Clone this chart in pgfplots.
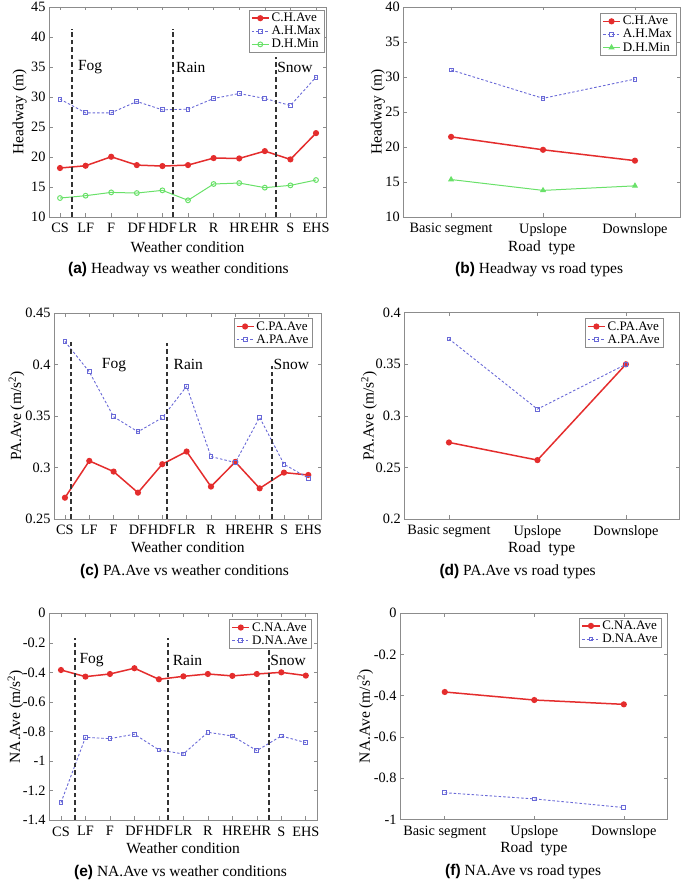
\documentclass[border=0pt]{standalone}
\usepackage{pgfplots}
\pgfplotsset{compat=1.18}
\usepackage{pgfplotstable}
\usepackage{fontspec}
\setmainfont{Liberation Serif}
\newfontfamily\capsans{Liberation Sans}

\definecolor{myred}{RGB}{228,45,45}
\definecolor{myblue}{RGB}{105,105,215}
\definecolor{mygreen}{RGB}{105,225,105}
\definecolor{axgray}{RGB}{140,140,140}

\pgfplotstableread{
x C A D
0 18.16 29.64 13.16
1 18.54 27.36 13.55
2 20.04 27.36 14.10
3 18.65 29.25 13.99
4 18.49 27.86 14.44
5 18.65 27.97 12.78
6 19.82 29.75 15.50
7 19.76 30.58 15.66
8 20.98 29.75 14.89
9 19.60 28.58 15.27
10 23.98 33.30 16.16
}\tabA
\pgfplotstableread{
x C A D
1 21.45 31.00 15.35
2 19.60 26.95 13.80
3 18.05 29.70 14.45
}\tabB
\pgfplotstableread{
x C A
0 0.2707 0.4226
1 0.3065 0.3931
2 0.2961 0.3494
3 0.2756 0.3348
4 0.3033 0.3485
5 0.3156 0.3790
6 0.2815 0.3107
7 0.3055 0.3049
8 0.2798 0.3488
9 0.2951 0.3033
10 0.2928 0.2897
}\tabC
\pgfplotstableread{
x C A
1 0.2742 0.3746
2 0.2571 0.3065
3 0.3500 0.3500
}\tabD
\pgfplotstableread{
x C D
0 -0.384 -1.282
1 -0.429 -0.840
2 -0.411 -0.849
3 -0.372 -0.819
4 -0.447 -0.925
5 -0.427 -0.953
6 -0.411 -0.806
7 -0.424 -0.831
8 -0.411 -0.930
9 -0.400 -0.831
10 -0.422 -0.876
}\tabE
\pgfplotstableread{
x C D
1 -0.382 -0.871
2 -0.421 -0.901
3 -0.442 -0.943
}\tabF

\pgfplotsset{
  mybase/.style={
    scale only axis,
    anchor=south west,
    axis line style={draw=axgray, line width=0.7pt},
    every tick/.style={draw=axgray, line width=0.6pt},
    tick align=inside,
    major tick length=3.5pt,
    ticklabel style={font=\fontsize{14.3}{14.3}\selectfont, text=black},
    xticklabel style={yshift=-3pt},
    xlabel style={font=\fontsize{15.5}{16}\selectfont, anchor=center},
    ylabel style={font=\fontsize{15.5}{16}\selectfont, anchor=center},
    legend style={font=\fontsize{13}{15.5}\selectfont, draw=axgray, anchor=north east,
      inner xsep=2pt, inner ysep=1pt, row sep=-1pt},
    legend cell align=left,
  },
  weather/.style={
    xtick={0,...,10},
    xticklabels={CS,LF,F,DF,HDF,LR,R,HR,EHR,S,EHS},
    xlabel={Weather condition},
  },
  road/.style={
    xtick={1,2,3},
    xticklabels={Basic segment,Upslope,Downslope},
    xlabel={Road\ \ type},
  },
  cred/.style={color=myred, line width=1.5pt, mark=*, mark size=2.3pt, mark options={fill=myred, solid}},
  ablue/.style={color=myblue, line width=0.9pt, dash pattern=on 2.5pt off 2pt, mark=square, mark size=1.9pt, mark options={solid, line width=0.9pt}},
  dgreen/.style={color=mygreen, line width=1pt, mark=o, mark size=2.4pt, mark options={solid}},
  dgreentri/.style={color=mygreen, line width=1pt, mark=triangle*, mark size=2.6pt, mark options={solid, fill=mygreen}},
  sep/.style={black!80, line width=2pt, dash pattern=on 4.5pt off 3pt, forget plot, mark=none},
}
\newcommand{\reg}{\fontsize{15.5}{16}\selectfont}
\newcommand{\capt}[2]{{\capsans\bfseries(#1)} #2}

\begin{document}
\begin{tikzpicture}[x=1pt,y=1pt]
\useasboundingbox (0,0) rectangle (685,887);

% (a)
\begin{axis}[mybase, weather, at={(49pt,670pt)}, width=277pt, height=210pt,
  xmin=-0.43, xmax=10.39, ymin=10, ymax=45,
  ytick={10,15,...,45}, yticklabels={10,15,20,25,30,35,40,45},
  ylabel={Headway (m)},
  ylabel style={at={(axis description cs:-0.106,0.5)}},
  xlabel style={at={(axis description cs:0.5,-0.143)}},
  legend style={at={(0.996,0.986)}}]
\addplot[cred] table[x=x,y=C]{\tabA};
\addplot[ablue] table[x=x,y=A]{\tabA};
\addplot[dgreen] table[x=x,y=D]{\tabA};
\legend{C.H.Ave,A.H.Max,D.H.Min}
\addplot[sep] coordinates {(0.47,10) (0.47,41.3)};
\addplot[sep] coordinates {(4.4,10) (4.4,41.3)};
\addplot[sep] coordinates {(8.44,10) (8.44,36.7)};
\node[anchor=west, font=\reg, inner sep=0pt] at (axis cs:0.7,35) {Fog};
\node[anchor=west, font=\reg, inner sep=0pt] at (axis cs:4.53,35) {Rain};
\node[anchor=west, font=\reg, inner sep=0pt] at (axis cs:8.48,35) {Snow};
\end{axis}

% (b)
\begin{axis}[mybase, road, at={(403.3pt,670pt)}, width=276.7pt, height=210pt,
  xmin=0.48, xmax=3.49, ymin=10, ymax=40,
  ytick={10,15,...,40}, yticklabels={10,15,20,25,30,35,40},
  ylabel={Headway (m)},
  ylabel style={at={(axis description cs:-0.092,0.5)}},
  xlabel style={at={(axis description cs:0.5,-0.146)}},
  legend style={at={(0.986,0.971)}}]
\addplot[cred] table[x=x,y=C]{\tabB};
\addplot[ablue] table[x=x,y=A]{\tabB};
\addplot[dgreentri] table[x=x,y=D]{\tabB};
\legend{C.H.Ave,A.H.Max,D.H.Min}
\end{axis}

% (c)
\begin{axis}[mybase, weather, at={(54pt,368pt)}, width=267.7pt, height=205.7pt,
  xmin=-0.45, xmax=10.55, ymin=0.25, ymax=0.45,
  ytick={0.25,0.3,0.35,0.4,0.45}, yticklabels={0.25,0.3,0.35,0.4,0.45},
  ylabel={PA.Ave (m/s\textsuperscript{2})},
  ylabel style={at={(axis description cs:-0.14,0.5)}},
  xlabel style={at={(axis description cs:0.5,-0.138)}},
  legend style={at={(0.966,0.976)}}]
\addplot[cred] table[x=x,y=C]{\tabC};
\addplot[ablue] table[x=x,y=A]{\tabC};
\legend{C.PA.Ave,A.PA.Ave}
\addplot[sep] coordinates {(0.23,0.25) (0.23,0.4247)};
\addplot[sep] coordinates {(4.2,0.25) (4.2,0.421)};
\addplot[sep] coordinates {(8.5,0.25) (8.5,0.399)};
\node[anchor=west, font=\reg, inner sep=0pt] at (axis cs:1.51,0.4) {Fog};
\node[anchor=west, font=\reg, inner sep=0pt] at (axis cs:4.46,0.4) {Rain};
\node[anchor=west, font=\reg, inner sep=0pt] at (axis cs:8.57,0.4) {Snow};
\end{axis}

% (d)
\begin{axis}[mybase, road, at={(404.3pt,368pt)}, width=274.7pt, height=206.3pt,
  xmin=0.495, xmax=3.6, ymin=0.2, ymax=0.4,
  ytick={0.2,0.25,0.3,0.35,0.4}, yticklabels={0.2,0.25,0.3,0.35,0.4},
  ylabel={PA.Ave (m/s\textsuperscript{2})},
  ylabel style={at={(axis description cs:-0.128,0.5)}},
  xlabel style={at={(axis description cs:0.5,-0.144)}},
  legend style={at={(0.945,0.973)}}]
\addplot[cred] table[x=x,y=C]{\tabD};
\addplot[ablue] table[x=x,y=A]{\tabD};
\legend{C.PA.Ave,A.PA.Ave}
\end{axis}

% (e)
\begin{axis}[mybase, weather, at={(49pt,67pt)}, width=268.3pt, height=206.7pt,
  xmin=-0.49, xmax=10.47, ymin=-1.4, ymax=0,
  ytick={-1.4,-1.2,-1,-0.8,-0.6,-0.4,-0.2,0}, yticklabels={-1.4,-1.2,-1,-0.8,-0.6,-0.4,-0.2,0},
  ylabel={NA.Ave (m/s\textsuperscript{2})},
  ylabel style={at={(axis description cs:-0.125,0.5)}},
  xlabel style={at={(axis description cs:0.5,-0.137)}},
  legend style={at={(0.979,0.971)}}]
\addplot[cred] table[x=x,y=C]{\tabE};
\addplot[ablue] table[x=x,y=D]{\tabE};
\legend{C.NA.Ave,D.NA.Ave}
\addplot[sep] coordinates {(0.57,-1.4) (0.57,-0.17)};
\addplot[sep] coordinates {(4.36,-1.4) (4.36,-0.17)};
\addplot[sep] coordinates {(8.51,-1.4) (8.51,-0.17)};
\node[anchor=west, font=\reg, inner sep=0pt] at (axis cs:0.75,-0.32) {Fog};
\node[anchor=west, font=\reg, inner sep=0pt] at (axis cs:4.56,-0.32) {Rain};
\node[anchor=west, font=\reg, inner sep=0pt] at (axis cs:8.55,-0.32) {Snow};
\end{axis}

% (f)
\begin{axis}[mybase, road, at={(400pt,67.7pt)}, width=267.7pt, height=206pt,
  xmin=0.5, xmax=3.49, ymin=-1, ymax=0,
  ytick={-1,-0.8,-0.6,-0.4,-0.2,0}, yticklabels={-1,-0.8,-0.6,-0.4,-0.2,0},
  ylabel={NA.Ave (m/s\textsuperscript{2})},
  ylabel style={at={(axis description cs:-0.13,0.5)}},
  xlabel style={at={(axis description cs:0.5,-0.141)}},
  legend style={at={(0.978,0.979)}}]
\addplot[cred] table[x=x,y=C]{\tabF};
\addplot[ablue] table[x=x,y=D]{\tabF};
\legend{C.NA.Ave,D.NA.Ave}
\end{axis}

% captions
\node[anchor=west, font=\reg, inner sep=0pt] at (68,617) {\capt{a}{Headway vs weather conditions}};
\node[anchor=west, font=\reg, inner sep=0pt] at (455,617) {\capt{b}{Headway vs road types}};
\node[anchor=west, font=\reg, inner sep=0pt] at (80,316) {\capt{c}{PA.Ave vs weather conditions}};
\node[anchor=west, font=\reg, inner sep=0pt] at (439.3,315.3) {\capt{d}{PA.Ave vs road types}};
\node[anchor=west, font=\reg, inner sep=0pt] at (74,14.7) {\capt{e}{NA.Ave vs weather conditions}};
\node[anchor=west, font=\reg, inner sep=0pt] at (445,15) {\capt{f}{NA.Ave vs road types}};
\end{tikzpicture}
\end{document}
